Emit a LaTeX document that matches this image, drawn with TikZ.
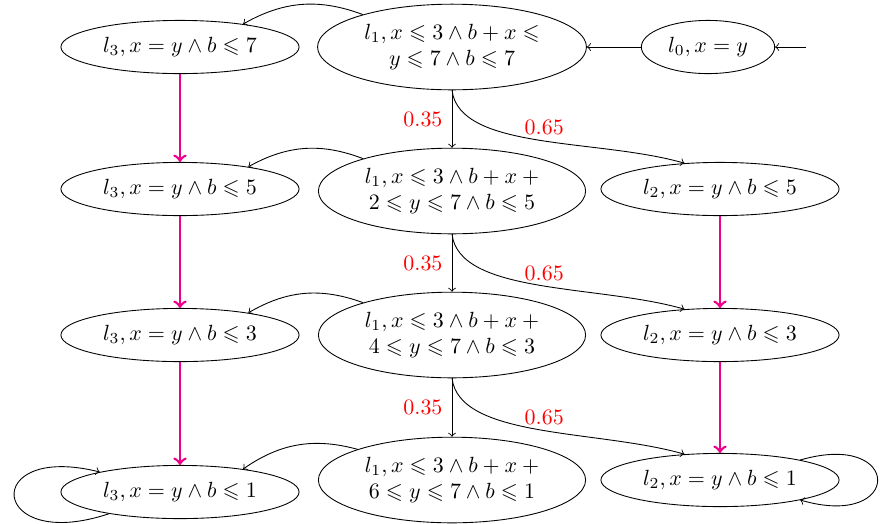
\documentclass[tikz,border=0pt]{standalone}
\usepackage{amssymb}
\usetikzlibrary{shapes.geometric}
\definecolor{pinkm}{RGB}{236,0,140}
\begin{document}
\begin{tikzpicture}[x=0.455pt,y=0.455pt,
  st/.style={draw,ellipse,align=center,minimum height=24.2pt},
  pr/.style={red},
  bigarrow/.style={->,draw=pinkm,line width=1.2pt},
  thinarrow/.style={->}]
\useasboundingbox (0,0) rectangle (882,-523);
% nodes
\node[st] (l0) at (708,-47) {$l_0, x = y$};
\node[st] (l1a) at (452,-47) {$l_1, x \leqslant 3 \wedge b + x \leqslant$\\$y \leqslant 7 \wedge b \leqslant 7$};
\node[st] (l3a) at (180,-47) {$l_3, x = y \wedge b \leqslant 7$};
\node[st] (l1b) at (452,-191) {$l_1, x \leqslant 3 \wedge b + x \mskip\medmuskip +$\\$2 \leqslant y \leqslant 7 \wedge b \leqslant 5$};
\node[st] (l3b) at (180,-189) {$l_3, x = y \wedge b \leqslant 5$};
\node[st] (l2b) at (720,-189) {$l_2, x = y \wedge b \leqslant 5$};
\node[st] (l1c) at (452,-335) {$l_1, x \leqslant 3 \wedge b + x \mskip\medmuskip +$\\$4 \leqslant y \leqslant 7 \wedge b \leqslant 3$};
\node[st] (l3c) at (180,-335) {$l_3, x = y \wedge b \leqslant 3$};
\node[st] (l2c) at (720,-335) {$l_2, x = y \wedge b \leqslant 3$};
\node[st] (l1d) at (452,-480) {$l_1, x \leqslant 3 \wedge b + x \mskip\medmuskip +$\\$6 \leqslant y \leqslant 7 \wedge b \leqslant 1$};
\node[st] (l3d) at (180,-492) {$l_3, x = y \wedge b \leqslant 1$};
\node[st] (l2d) at (720,-480) {$l_2, x = y \wedge b \leqslant 1$};
\coordinate (init) at (806,-47);
% edges
\draw[thinarrow] (init) -- (l0);
\draw[thinarrow] (l0) -- (l1a);
\draw[thinarrow] (l1a.160) to[bend right=25] (l3a.20);
\draw[thinarrow] (l1b.160) to[bend right=25] (l3b.18);
\draw[thinarrow] (l1c.160) to[bend right=25] (l3c.18);
\draw[thinarrow] (l1d.162) to[bend right=25] (l3d.20);
\draw[thinarrow] (l1a.south) -- node[pr,left=0.8pt] {0.35} (l1b.north);
\draw[thinarrow] (l1b.south) -- node[pr,left=0.8pt] {0.35} (l1c.north);
\draw[thinarrow] (l1c.south) -- node[pr,left=0.8pt] {0.35} (l1d.north);
\draw[thinarrow] (l1a.south) .. controls +(-83:61) and +(164:90) .. node[pr,pos=0.52,above=-1pt] {0.65} (l2b.144);
\draw[thinarrow] (l1b.south) .. controls +(-83:61) and +(164:90) .. node[pr,pos=0.52,above=-1pt] {0.65} (l2c.144);
\draw[thinarrow] (l1c.south) .. controls +(-83:61) and +(164:90) .. node[pr,pos=0.52,above=-1pt] {0.65} (l2d.144);
\draw[bigarrow] (l3a) -- (l3b);
\draw[bigarrow] (l3b) -- (l3c);
\draw[bigarrow] (l3c) -- (l3d);
\draw[bigarrow] (l2b) -- (l2c);
\draw[bigarrow] (l2c) -- (l2d);
\draw[thinarrow] (l3d.197) .. controls +(-120,-40) and +(-120,30) .. (l3d.166);
\draw[thinarrow] (l2d.14) .. controls +(103,30) and +(103,-30) .. (l2d.-14);
\end{tikzpicture}
\end{document}
